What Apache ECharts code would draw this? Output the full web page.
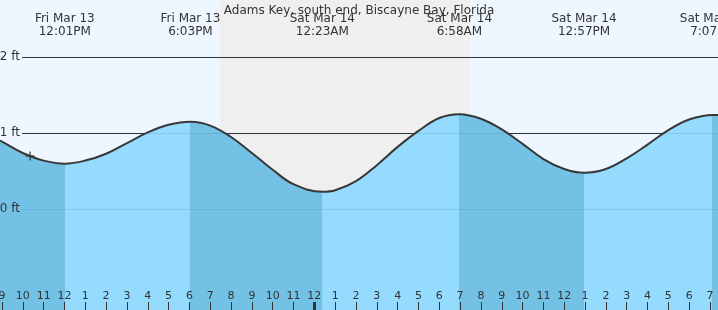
<!DOCTYPE html>
<html><head><meta charset="utf-8">
<script src="https://cdn.jsdelivr.net/npm/echarts@6/dist/echarts.min.js"></script>
<style>html,body{margin:0;padding:0;background:#EEF7FF}#c{width:718px;height:310px}</style>
</head><body><div id="c"></div>
<script>
const titleText = 'Adams Key, south end, Biscayne Bay, Florida';
// hours counted from Fri Mar 13 00:00
const tideHours = [8.9, 9, 10, 11, 12.017, 13, 14, 15, 16, 17, 18.05, 19, 20, 21, 22, 23, 24.383, 25, 26, 27, 28, 29, 30, 30.967, 32, 33, 34, 35, 36, 36.95, 38, 39, 40, 41, 42, 43.117, 43.4];
const tideFeet = [0.90, 0.89, 0.74, 0.64, 0.60, 0.64, 0.73, 0.87, 1.01, 1.11, 1.15, 1.10, 0.95, 0.74, 0.52, 0.33, 0.23, 0.25, 0.37, 0.58, 0.82, 1.03, 1.20, 1.25, 1.19, 1.05, 0.86, 0.66, 0.53, 0.48, 0.53, 0.67, 0.85, 1.04, 1.18, 1.24, 1.24];
const extremeHours = [12.017, 18.05, 24.383, 30.967, 36.95, 43.117];
const extremeKinds = ['low', 'high', 'low', 'high', 'low', 'high'];
const extremeDays = ['Fri Mar 13', 'Fri Mar 13', 'Sat Mar 14', 'Sat Mar 14', 'Sat Mar 14', 'Sat Mar 14'];
const extremeClock = ['12:01PM', '6:03PM', '12:23AM', '6:58AM', '12:57PM', '7:07PM'];
const hourTicks = [9, 10, 11, 12, 13, 14, 15, 16, 17, 18, 19, 20, 21, 22, 23, 24, 25, 26, 27, 28, 29, 30, 31, 32, 33, 34, 35, 36, 37, 38, 39, 40, 41, 42, 43];
const hourLabels = ['9', '10', '11', '12', '1', '2', '3', '4', '5', '6', '7', '8', '9', '10', '11', '12', '1', '2', '3', '4', '5', '6', '7', '8', '9', '10', '11', '12', '1', '2', '3', '4', '5', '6', '7'];
const midnightTicks = [24];
const heightTicks = [0, 1, 2];
const heightLabels = ['0 ft', '1 ft', '2 ft'];
const nightSpan = [19.47, 31.47];
const nowHour = [10.35];
const nowFeet = [0.70];
const xRange = [8.904, 43.384];
const yRange = [-1.322, 2.749];

const FONT = 'DejaVu Sans';
const TXT = '#333';
const WATER_RISE = '#95DBFD';
const WATER_FALL = '#73C2E6';

const pieces = [];
let prev = xRange[0] - 1;
extremeHours.forEach((h, i) => {
  pieces.push({ gte: prev, lt: h, color: extremeKinds[i] === 'low' ? WATER_FALL : WATER_RISE });
  prev = h;
});
pieces.push({ gte: prev, lte: xRange[1] + 1, color: extremeKinds[extremeKinds.length - 1] === 'high' ? WATER_FALL : WATER_RISE });

function findIdx(arr, v) { return arr.findIndex(a => Math.abs(a - v) < 1e-6); }

const gridBase = { right: 0, top: 0, bottom: 0, containLabel: false, outerBoundsMode: 'none' };
const chart = echarts.init(document.getElementById('c'), null, { renderer: 'canvas' });
chart.setOption({
  animation: false,
  backgroundColor: '#EEF7FF',
  title: { text: titleText, left: 'center', top: 0, z: 8, textStyle: { fontFamily: FONT, fontSize: 12, fontWeight: 'normal', color: TXT } },
  grid: [
    Object.assign({ left: 0 }, gridBase),
    Object.assign({ left: 22 }, gridBase),
    Object.assign({ left: 0 }, gridBase)
  ],
  xAxis: [
    { type: 'value', gridIndex: 0, position: 'bottom', min: xRange[0], max: xRange[1], z: 5,
      axisLine: { show: false, onZero: false }, splitLine: { show: false },
      axisTick: { show: true, inside: true, length: 8, customValues: hourTicks, lineStyle: { color: TXT, width: 1 } },
      axisLabel: { show: true, inside: true, margin: 8, customValues: hourTicks, fontFamily: FONT, fontSize: 11, color: TXT,
        formatter: v => { const i = findIdx(hourTicks, v); return i >= 0 ? hourLabels[i] : ''; } } },
    { type: 'value', gridIndex: 0, position: 'top', min: xRange[0], max: xRange[1], z: 5,
      axisLine: { show: false, onZero: false }, splitLine: { show: false }, axisTick: { show: false, customValues: extremeHours },
      axisLabel: { show: true, inside: true, margin: 13, customValues: extremeHours, fontFamily: FONT, fontSize: 12, lineHeight: 12.5, color: TXT,
        formatter: v => { const i = findIdx(extremeHours, v); return i >= 0 ? extremeDays[i] + '\n' + extremeClock[i] : ''; } } },
    { type: 'value', gridIndex: 1, min: 0, max: 1, show: false, axisLine: { onZero: false } },
    { type: 'value', gridIndex: 2, position: 'bottom', min: xRange[0], max: xRange[1], z: 6,
      axisLine: { show: false, onZero: false }, splitLine: { show: false }, axisLabel: { show: false },
      axisTick: { show: true, inside: true, length: 8, customValues: midnightTicks, lineStyle: { color: TXT, width: 3 } } }
  ],
  yAxis: [
    { type: 'value', gridIndex: 0, min: yRange[0], max: yRange[1], show: false, axisLine: { onZero: false } },
    { type: 'value', gridIndex: 1, min: yRange[0], max: yRange[1], z: 5,
      axisLine: { show: false, onZero: false }, splitLine: { show: false }, axisTick: { show: false, customValues: heightTicks },
      axisLabel: { show: true, margin: 2, customValues: heightTicks, fontFamily: FONT, fontSize: 12, color: TXT,
        formatter: v => { const i = findIdx(heightTicks, v); return i >= 0 ? heightLabels[i] : ''; } } },
    { type: 'value', gridIndex: 2, min: yRange[0], max: yRange[1], show: false, axisLine: { onZero: false } }
  ],
  visualMap: { type: 'piecewise', show: false, dimension: 0, seriesIndex: 2, pieces: pieces },
  series: [
    { name: 'night', type: 'line', xAxisIndex: 0, yAxisIndex: 0, data: [], z: 1, silent: true,
      markArea: { silent: true, z: 1, itemStyle: { color: '#EFEFEF' }, data: [[{ xAxis: nightSpan[0] }, { xAxis: nightSpan[1] }]] } },
    { name: 'grid-dark', type: 'line', xAxisIndex: 2, yAxisIndex: 1, data: [], z: 2, silent: true,
      markLine: { silent: true, z: 2, symbol: 'none', label: { show: false }, lineStyle: { color: TXT, width: 1, type: 'solid' },
        data: heightTicks.filter(v => v > 0).map(v => ({ yAxis: v })) } },
    { name: 'tide', type: 'line', xAxisIndex: 0, yAxisIndex: 0, z: 3, smooth: 0.4, symbol: 'none',
      data: tideHours.map((h, i) => [h, tideFeet[i]]),
      lineStyle: { color: '#383838', width: 2 },
      areaStyle: { opacity: 1, origin: 'start' } },
    { name: 'grid-faint', type: 'line', xAxisIndex: 2, yAxisIndex: 1, data: [], z: 4, silent: true,
      markLine: { silent: true, z: 4, symbol: 'none', label: { show: false }, lineStyle: { color: 'rgba(0,70,120,0.12)', width: 1, type: 'solid' },
        data: heightTicks.map(v => ({ yAxis: v })) } },
    { name: 'now', type: 'scatter', xAxisIndex: 0, yAxisIndex: 0, z: 7, silent: true,
      data: nowHour.map((h, i) => [h, nowFeet[i]]),
      symbol: 'path://M0,5H10M5,0V10', symbolSize: 9,
      itemStyle: { color: 'rgba(0,0,0,0)', borderColor: '#333', borderWidth: 1.5 } }
  ]
});
</script></body></html>
